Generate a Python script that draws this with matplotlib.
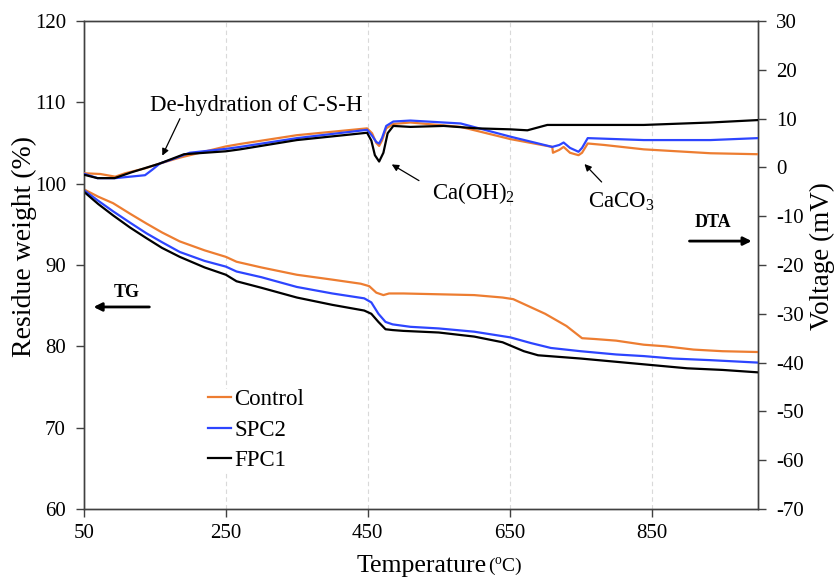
import matplotlib
matplotlib.use("Agg")
import matplotlib.pyplot as plt

plt.rcParams['font.family'] = ['Liberation Serif', 'DejaVu Serif']
plt.rcParams['mathtext.fontset'] = 'custom'
plt.rcParams['mathtext.rm'] = 'Liberation Serif'
plt.rcParams['mathtext.default'] = 'regular'
plt.rcParams['axes.unicode_minus'] = False

# ---------------- data ----------------
series_names = ["Control", "SPC2", "FPC1"]
colors = ["#ED7D31", "#2D45FF", "#000000"]

# TG (residue weight, %)
tg_ctrl_T = [50, 70, 91, 115, 138, 160, 185, 220, 250, 265, 300, 350, 400, 440, 452, 462, 472, 480, 500, 550,
             600, 640, 655, 670, 700, 730, 752, 770, 800, 839, 870, 909, 950, 1000]
tg_ctrl_W = [99.3, 98.4, 97.6, 96.3, 95.1, 94.0, 92.9, 91.8, 91.0, 90.4, 89.7, 88.8, 88.2, 87.7, 87.4, 86.6, 86.3,
             86.5, 86.5, 86.4, 86.3, 86.0, 85.8, 85.2, 84.0, 82.5, 81.0, 80.9, 80.7, 80.2, 80.0, 79.6, 79.4, 79.3]

tg_spc2_T = [50, 70, 91, 115, 138, 160, 185, 220, 250, 265, 300, 350, 400, 445, 455, 465, 475, 485, 510, 550,
             600, 651, 680, 708, 750, 800, 839, 880, 933, 1000]
tg_spc2_W = [99.2, 97.9, 96.6, 95.2, 93.9, 92.8, 91.6, 90.5, 89.8, 89.2, 88.5, 87.3, 86.5, 85.9, 85.4, 84.0, 83.0,
             82.7, 82.4, 82.2, 81.8, 81.1, 80.4, 79.8, 79.4, 79.0, 78.8, 78.5, 78.3, 78.0]

tg_fpc1_T = [50, 70, 91, 115, 138, 160, 185, 220, 250, 265, 300, 350, 400, 445, 455, 465, 475, 485, 500, 550,
             600, 640, 670, 690, 750, 800, 850, 900, 950, 1000]
tg_fpc1_W = [99.0, 97.5, 96.1, 94.6, 93.3, 92.1, 91.0, 89.7, 88.8, 88.0, 87.2, 86.0, 85.1, 84.4, 84.0, 83.0, 82.1,
             82.0, 81.9, 81.7, 81.2, 80.5, 79.4, 78.9, 78.5, 78.1, 77.7, 77.3, 77.1, 76.8]

# DTA (voltage, mV)
dta_ctrl_T = [50, 73, 94, 108, 136, 157, 185, 250, 270, 350, 449, 456, 462, 466, 470, 476, 486, 510, 581, 651,
              710, 711, 720, 726, 735, 747, 752, 760, 783, 839, 933, 1000]
dta_ctrl_V = [-1.2, -1.35, -1.9, -1.2, -0.2, 0.8, 2.0, 4.3, 4.8, 6.6, 8.0, 7.0, 5.0, 4.4, 5.5, 8.0, 8.9, 9.2,
              8.3, 5.8, 4.2, 3.0, 3.6, 4.2, 3.0, 2.5, 3.0, 4.9, 4.6, 3.7, 2.9, 2.7]

dta_spc2_T = [50, 69, 94, 122, 136, 146, 157, 179, 199, 250, 270, 350, 449, 456, 462, 466, 470, 476, 486, 510,
              581, 651, 710, 720, 726, 735, 747, 752, 760, 839, 933, 1000]
dta_spc2_V = [-1.3, -2.2, -2.2, -1.8, -1.6, -0.5, 0.8, 1.9, 3.0, 3.8, 4.2, 6.0, 7.7, 6.5, 5.2, 4.9, 6.0, 8.5,
              9.4, 9.6, 9.0, 6.3, 4.2, 4.6, 5.1, 4.0, 3.2, 4.0, 6.0, 5.6, 5.6, 6.0]

dta_fpc1_T = [50, 69, 93, 117, 157, 191, 250, 270, 350, 449, 455, 460, 466, 472, 478, 486, 510, 557, 604, 651,
              675, 703, 839, 933, 1000]
dta_fpc1_V = [-1.5, -2.2, -2.2, -1.0, 0.8, 2.7, 3.3, 3.7, 5.6, 7.1, 5.5, 2.5, 1.2, 3.0, 7.0, 8.5, 8.3, 8.5,
              8.0, 7.8, 7.6, 8.7, 8.7, 9.2, 9.7]

x_ticks = [50, 250, 450, 650, 850]
left_ticks = [60, 70, 80, 90, 100, 110, 120]
right_ticks = [-70, -60, -50, -40, -30, -20, -10, 0, 10, 20, 30]

# ---------------- figure ----------------
fig = plt.figure(figsize=(8.36, 5.78), dpi=100)
ax = fig.add_axes([84 / 836, 1 - 509 / 578, (758 - 84) / 836, (509 - 21) / 578])
ax2 = ax.twinx()

spine_c = "#404040"
for a in (ax, ax2):
    for s in a.spines.values():
        s.set_color(spine_c)
        s.set_linewidth(1.0)

lw = 1.6
tg = [(tg_ctrl_T, tg_ctrl_W), (tg_spc2_T, tg_spc2_W), (tg_fpc1_T, tg_fpc1_W)]
dta = [(dta_ctrl_T, dta_ctrl_V), (dta_spc2_T, dta_spc2_V), (dta_fpc1_T, dta_fpc1_V)]
for (T, W), name, c in zip(tg, series_names, colors):
    ax.plot(T, W, color=c, lw=lw, label=name, zorder=3)
for (T, V), c in zip(dta, colors):
    ax2.plot(T, V, color=c, lw=lw, zorder=3)

for xv in x_ticks[1:]:
    ax.axvline(xv, color="#D9D9D9", lw=0.8, ls=(0, (4, 3)), zorder=0)

ax.set_xlim(50, 1000)
ax.set_ylim(60, 120)
ax2.set_ylim(-70, 30)
ax.set_xticks(x_ticks)
ax.set_yticks(left_ticks)
ax2.set_yticks(right_ticks)

ax.tick_params(axis="both", direction="out", length=6, width=1, color=spine_c, labelsize=15, pad=5)
ax.tick_params(axis="y", pad=7)
ax2.tick_params(axis="y", direction="out", length=6, width=1, color=spine_c, labelsize=15, pad=7)

ax.set_ylabel("Residue weight (%)", fontsize=20)
ax.yaxis.set_label_coords(-0.07, 0.537)
ax2.set_ylabel("Voltage (mV)", fontsize=19.5)
ax2.yaxis.set_label_coords(1.077, 0.518)

fig.text(357 / 836, 1 - 566 / 578, "Temperature", fontsize=18.5, ha="left", va="center")
fig.text(488 / 836, 1 - 566 / 578, "($^{o}$C)", fontsize=14, ha="left", va="center")

# legend
leg = ax.legend(loc="center left", bbox_to_anchor=((208 - 84) / 674, (509 - 430) / 488), frameon=True,
                fontsize=16.5, handlelength=1.0, handletextpad=0.15, labelspacing=0.42,
                borderpad=0.0, borderaxespad=0.0)
leg.get_frame().set_edgecolor("none")
leg.get_frame().set_facecolor("white")
leg.get_frame().set_alpha(1)

# annotations (on DTA axis)
arrow_kw = dict(arrowstyle="-|>", color="black", lw=0.9, mutation_scale=10)
ax2.annotate("", xy=(158.7, 1.9), xytext=(186.9, 10.5), arrowprops=arrow_kw)
ax2.text(292.7, 12.7, "De-hydration of C-S-H", fontsize=16.5, ha="center", va="center")

ax2.annotate("", xy=(480.4, 0.9), xytext=(525.5, -3.0), arrowprops=arrow_kw)
ax2.text(540, -5.3, "Ca(OH)$_2$", fontsize=16.5, ha="left", va="center")

ax2.annotate("", xy=(752.7, 1.1), xytext=(782.3, -3.4), arrowprops=arrow_kw)
ax2.text(761, -7.0, "CaCO$_3$", fontsize=16.5, ha="left", va="center")

bold_arrow = dict(arrowstyle="-|>", color="black", lw=2.0, mutation_scale=12)
ax2.text(937, -11.2, "DTA", fontsize=13, fontweight="bold", ha="center", va="center")
ax2.annotate("", xy=(995, -15.1), xytext=(899.5, -15.1), arrowprops=bold_arrow)
ax2.text(110.3, -25.7, "TG", fontsize=13, fontweight="bold", ha="center", va="center")
ax2.annotate("", xy=(59.5, -28.6), xytext=(146, -28.6), arrowprops=bold_arrow)

fig.savefig("out.png", dpi=100)
